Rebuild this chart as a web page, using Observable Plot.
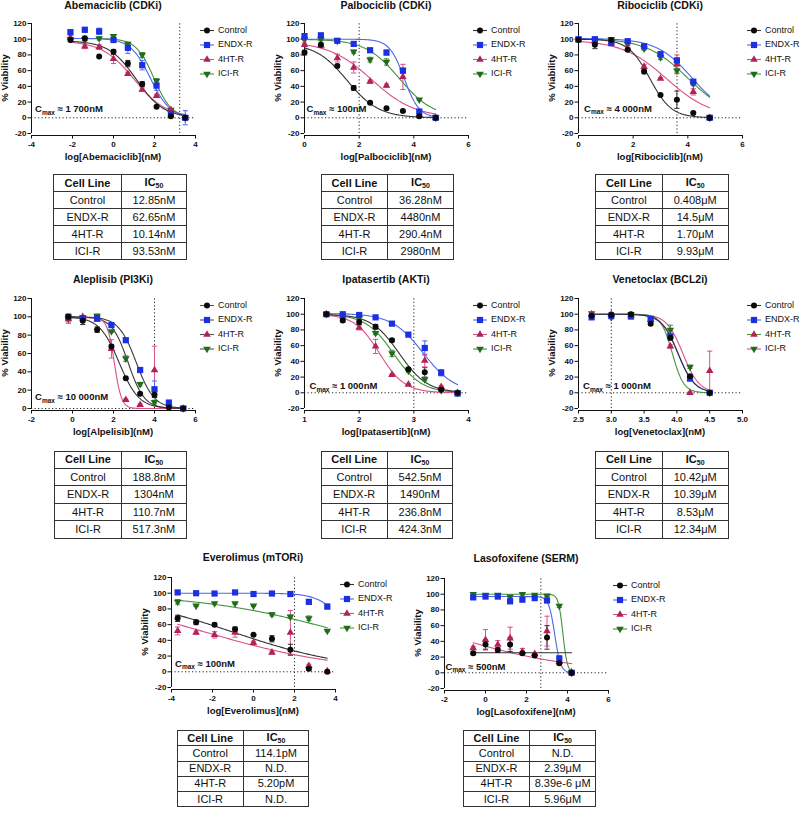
<!DOCTYPE html>
<html><head><meta charset="utf-8">
<script src="https://cdn.jsdelivr.net/npm/d3@7"></script>
<script src="https://cdn.jsdelivr.net/npm/@observablehq/plot@0.6"></script>
<style>
body{margin:0;background:#fff;font-family:"Liberation Sans",Arial,sans-serif;}
#root{position:relative;width:800px;height:817px;overflow:hidden;background:#fff;}
#root svg{position:absolute;}
table.ic{position:absolute;border-collapse:collapse;table-layout:fixed;font-family:"Liberation Sans",Arial,sans-serif;font-size:11px;color:#111;}
table.ic td{border:1.2px solid #333;text-align:center;padding:0;line-height:1;white-space:nowrap;overflow:hidden;}
table.ic tr.h td{font-weight:bold;}
table.ic sub{font-size:7px;vertical-align:-2px;}
</style></head><body><div id="root"></div>
<script>
// ---------------- data ----------------
const seriesNames = ["Control", "ENDX-R", "4HT-R", "ICI-R"];
const cmaxNM = [1700, 100, 4000, 10000, 1000, 1000, 100, 500];
const cmaxText = ["1 700nM", "100nM", "4 000nM", "10 000nM", "1 000nM", "1 000nM", "100nM", "500nM"];

// Abemaciclib (CDKi)
const abemaDose = [-2.1, -1.4, -0.7, 0, 0.7, 1.4, 2.1, 2.8, 3.5];
const abemaViability = [
  [99, 101, 78, 84, 69, 43, 14, 2, 0],
  [109, 112, 110, 99, 89, 67, 41, 5, 0],
  [102, 91, 90, 75, 56, 36, 28, 10, 0],
  [100, 100, 101, 104, 94, 80, 47, 10, 0]];
const abemaSem = [
  [2, 3, 0, 3, 4, 3, 1, 1, 1],
  [2, 3, 4, 2, 7, 6, 6, 3, 9],
  [3, 3, 3, 6, 2, 2, 2, 1, 2],
  [2, 2, 2, 2, 2, 3, 3, 2, 2]];
const abemaFit = [[98, 0, 1.109, 0.65], [101, 0, 1.797, 0.9], [98, 0, 1.006, 0.55], [101, 0, 1.971, 1.0]];
const abemaIC50 = ["12.85nM", "62.65nM", "10.14nM", "93.53nM"];

// Palbociclib (CDKi)
const palboDose = [0, 0.6, 1.2, 1.8, 2.4, 3.0, 3.6, 4.2, 4.8];
const palboViability = [
  [83, 93, 66, 38, 19, 12, 8.5, 2, 0],
  [104, 105, 98, 94, 86, 83, 60, 8, 0],
  [93, 92, 76, 64, 46, 41, 52, 3, 0],
  [100, 100, 98, 84, 74, 71, 60, 23, 0]];
const palboSem = [
  [3, 2, 2, 3, 1, 1, 1, 1, 1],
  [2, 2, 2, 3, 2, 3, 3, 2, 1],
  [2, 2, 5, 7, 2, 2, 16, 1, 1],
  [2, 2, 2, 2, 3, 4, 3, 1, 1]];
const palboFit = [[95, 0, 1.56, 0.75], [100, 0, 3.65, 1.6], [97, 0, 2.46, 0.55], [100, 0, 3.47, 0.7]];
const palboIC50 = ["36.28nM", "4480nM", "290.4nM", "2980nM"];

// Ribociclib (CDKi)
const riboDose = [0, 0.6, 1.2, 1.8, 2.4, 3.0, 3.6, 4.2, 4.8];
const riboViability = [
  [99, 93, 99, 86.5, 59, 29, 23, 6, 0],
  [100, 100, 95, 97.5, 91, 81, 73, 46, 0],
  [99, 97, 96, 88, 65, 50, 68, 33, 0],
  [100, 99, 100, 94, 88, 77, 60, 43, 0]];
const riboSem = [
  [2, 5, 2, 2, 3, 1, 11, 1, 1],
  [2, 1, 2, 2, 1, 2, 3, 2, 1],
  [2, 2, 2, 2, 3, 1, 12, 4, 1],
  [1, 1, 1, 2, 2, 3, 3, 2, 1]];
const riboFit = [[100, 0, 2.61, 1.1], [101, 0, 4.16, 0.67], [99, 0, 3.23, 0.53], [101, 0, 4.0, 0.57]];
const riboIC50 = ["0.408μM", "14.5μM", "1.70μM", "9.93μM"];

// Alpelisib (PI3Ki)
const alpeDose = [-0.2, 0.5, 1.2, 1.9, 2.6, 3.3, 4.0, 4.7, 5.4];
const alpeViability = [
  [100, 95.6, 86, 67.6, 33, 16, 15, 1, 0],
  [100, 98.5, 98.5, 91, 74.5, 42, 21, 6.5, 0],
  [97.5, 100, 97, 65, 9.5, 4, 42, 2, 0],
  [98, 99, 101, 84, 54.5, 26.5, 7, 2, 0]];
const alpeSem = [
  [2, 4, 3, 2, 1, 1, 3, 1, 1],
  [2, 2, 2, 1, 2, 2, 9, 1, 1],
  [3, 1, 2, 10, 1, 1, 26, 1, 1],
  [5, 2, 2, 1, 3, 2, 2, 1, 1]];
const alpeFit = [[100, 0, 2.276, 0.9], [100, 0, 3.115, 1.0], [99, 0, 2.044, 2.5], [100, 0, 2.714, 1.1]];
const alpeIC50 = ["188.8nM", "1304nM", "110.7nM", "517.3nM"];

// Ipatasertib (AKTi)
const ipatDose = [1.4, 1.7, 2.0, 2.3, 2.6, 2.9, 3.2, 3.5, 3.8];
const ipatViability = [
  [100, 92, 90, 84, 67, 30, 26, 4, 0],
  [100, 100, 99, 96, 88, 74, 57, 25.5, -1],
  [100, 97, 83, 59, 23, 10.6, 41, 7.7, 0],
  [100, 98, 95, 76, 50, 28, 17, 3, 0]];
const ipatSem = [
  [2, 2, 3, 3, 2, 2, 6, 1, 1],
  [1, 1, 1, 2, 2, 1, 9, 4, 2],
  [1, 1, 3, 9, 1, 1, 8, 1, 1],
  [1, 1, 2, 2, 4, 2, 2, 1, 1]];
const ipatFit = [[100, 0, 2.734, 1.7], [101, 0, 3.173, 1.5], [100, 0, 2.374, 1.9], [100, 0, 2.628, 1.7]];
const ipatIC50 = ["542.5nM", "1490nM", "236.8nM", "424.3nM"];

// Venetoclax (BCL2i)
const veneDose = [2.7, 3.0, 3.3, 3.6, 3.9, 4.2, 4.5];
const veneViability = [
  [98, 99, 100, 88, 70, 21, 0],
  [96, 98, 97, 94, 72, 18, 0],
  [100, 100, 99, 93, 59, 0, 28],
  [101, 96, 100, 95, 80, 33, 0]];
const veneSem = [
  [2, 3, 1, 2, 3, 2, 1],
  [2, 2, 2, 2, 2, 2, 1],
  [1, 1, 1, 2, 2, 1, 25],
  [1, 2, 1, 2, 6, 2, 1]];
const veneFit = [[100, 0, 4.018, 3.5], [100, 0, 4.017, 3.4], [100, 0, 3.931, 5.0], [100, 0, 4.091, 3.5]];
const veneIC50 = ["10.42μM", "10.39μM", "8.53μM", "12.34μM"];

// Everolimus (mTORi)
const everDose = [-3.7, -2.8, -1.9, -0.9, 0, 0.9, 1.8, 2.7, 3.6];
const everViability = [
  [68, 63, 60, 54, 47, 42, 28, 4, 0],
  [101, 100, 99.6, 101, 99, 99.6, 99, 89, 83],
  [52, 50, 47, 50, 37, 24.6, 50, 7.6, 1],
  [89, 84, 87, 87, 84, 73, 70, 68, 52]];
const everSem = [
  [4, 3, 2, 3, 1, 4, 7, 2, 1],
  [1, 1, 1, 1, 1, 1, 1, 3, 3],
  [5, 2, 4, 6, 2, 2, 28, 2, 1],
  [3, 1, 1, 1, 1, 2, 2, 3, 1]];
const everFit = [[100, 0, -0.943, 0.15], [100, 0, 4.65, 0.7], [100, 0, -2.284, 0.13], [100, 0, 4.45, 0.123]];
const everIC50 = ["114.1pM", "N.D.", "5.20pM", "N.D."];

// Lasofoxifene (SERM)
const lasoDose = [-0.6, 0, 0.6, 1.2, 1.8, 2.4, 3.0, 3.6, 4.2];
const lasoViability = [
  [25, 36, 29, 36, 25, 22, 45, 12, 0],
  [96, 97, 97, 91, 93, 95, 92, 18, 0],
  [31.6, 42, 36, 44, 27, 24, 53, 14, 1],
  [100, 99, 99, 97, 100, 99, 98, 85, 0]];
const lasoSem = [
  [2, 6, 3, 9, 1, 1, 15, 2, 1],
  [2, 2, 1, 3, 2, 2, 2, 4, 1],
  [2, 13, 5, 14, 4, 2, 19, 3, 1],
  [2, 1, 1, 1, 1, 1, 1, 2, 1]];
const lasoFit = [[25.5, 25.5, 2, 1], [97, 0, 3.378, 3], [100, 0, -2.08, 0.14], [100, 0, 3.775, 4]];
const lasoIC50 = ["N.D.", "2.39μM", "8.39e-6 μM", "5.96μM"];

// ---------------- styles ----------------
const markerColors = ["#0a0a0a", "#1c2fe3", "#b02258", "#226b1c"];
const curveDefault = ["#333333", "#4d66ea", "#d9508a", "#46923f"];
const errColors = ["#333333", "#4d66ea", "#d9508a", "#46923f"];
const symbols = ["circle", "square", "triangle", "triangle"];
const radii = [3, 3.5, 2.8, 2.8];
const rotations = [0, 0, 0, 180];

const panels = [
  {title: "Abemaciclib (CDKi)", xLabel: "log[Abemaciclib](nM)", dose: abemaDose, vals: abemaViability, sem: abemaSem, fit: abemaFit, ic50: abemaIC50,
   xDomain: [-4, 4], xTicks: [-4, -2, 0, 2, 4], yMin: -20, L: 31, T: 23, titleDy: 16.5, labelY: 11, labelDx: 4, table: [53, 174, 133, 68, 17.1]},
  {title: "Palbociclib (CDKi)", xLabel: "log[Palbociclib](nM)", dose: palboDose, vals: palboViability, sem: palboSem, fit: palboFit, ic50: palboIC50,
   xDomain: [0, 6], xTicks: [0, 2, 4, 6], yMin: -20, L: 304.3, T: 23, titleDy: 16.5, labelY: 11, labelDx: 2.5, table: [320.7, 174, 132, 66.6, 17.1]},
  {title: "Ribociclib (CDKi)", xLabel: "log[Ribociclib](nM)", dose: riboDose, vals: riboViability, sem: riboSem, fit: riboFit, ic50: riboIC50,
   xDomain: [0, 6], xTicks: [0, 2, 4, 6], yMin: -20, L: 578.3, T: 23, titleDy: 16.5, labelY: 11.5, labelDx: 6, table: [595, 174, 132.7, 66.7, 17.1]},
  {title: "Aleplisib (PI3Ki)", xLabel: "log[Alpelisib](nM)", dose: alpeDose, vals: alpeViability, sem: alpeSem, fit: alpeFit, ic50: alpeIC50,
   xDomain: [-2, 6], xTicks: [-2, 0, 2, 4, 6], yMin: 0, L: 31, T: 297.7, titleDy: 18, labelY: 12, labelDx: 4, table: [54.3, 450.7, 131.7, 66.4, 17.4],
   curveColors: ["#333333", "#3a3a3a", "#d9508a", "#3a3a3a"], legendLines: ["#555", "#555", "#555", "#555"]},
  {title: "Ipatasertib (AKTi)", xLabel: "log[Ipatasertib](nM)", dose: ipatDose, vals: ipatViability, sem: ipatSem, fit: ipatFit, ic50: ipatIC50,
   xDomain: [1, 4], xTicks: [1, 2, 3, 4], yMin: -20, L: 304.3, T: 297.7, titleDy: 18, labelY: 8.5, labelDx: 5.5, table: [320.7, 450.7, 131.6, 66, 17.4]},
  {title: "Venetoclax (BCL2i)", xLabel: "log[Venetoclax](nM)", dose: veneDose, vals: veneViability, sem: veneSem, fit: veneFit, ic50: veneIC50,
   xDomain: [2.5, 5], xTicks: [2.5, 3, 3.5, 4, 4.5, 5], xFmt: d3.format(".1f"), yMin: -20, L: 578.3, T: 297.7, titleDy: 18, labelY: 8.5, labelDx: 5, table: [595, 450.7, 132.7, 66.7, 17.4],
   curveColors: ["#333333", "#4d66ea", "#46923f", "#d9508a"]},
  {title: "Everolimus (mTORi)", xLabel: "log[Everolimus](nM)", dose: everDose, vals: everViability, sem: everSem, fit: everFit, ic50: everIC50,
   xDomain: [-4, 4], xTicks: [-4, -2, 0, 2, 4], yMin: -20, L: 171, T: 576.7, titleDy: 19, labelY: 10, labelDx: 4, table: [176.7, 730.3, 131.6, 66, 15.2]},
  {title: "Lasofoxifene (SERM)", xLabel: "log[Lasofoxifene](nM)", dose: lasoDose, vals: lasoViability, sem: lasoSem, fit: lasoFit, ic50: lasoIC50,
   xDomain: [-2, 6], xTicks: [-2, 0, 2, 4, 6], yMin: -20, L: 444, T: 577.7, titleDy: 19, labelY: 7.5, labelDx: 1.5, table: [462.7, 730.3, 132.3, 66.6, 15.2]}
];

const root = document.getElementById("root");
const FONT = '"Liberation Sans", Arial, sans-serif';
const capSymbol = {draw(ctx, size) { const w = Math.sqrt(size / Math.PI); ctx.moveTo(-w, 0); ctx.lineTo(w, 0); }};
const d3Sym = {circle: d3.symbolCircle, square: d3.symbolSquare, triangle: d3.symbolTriangle};

function addText(sel, x, y, txt, size, weight, anchor) {
  return sel.append("text").attr("x", x).attr("y", y).attr("text-anchor", anchor).attr("dominant-baseline", "middle")
    .attr("font-family", FONT).attr("font-size", size).attr("font-weight", weight).attr("fill", "#111").text(txt);
}

function drawPanel(p, idx) {
  const ML = 44, MT = 28, MR = 110, MB = 34, PW = 164, PH = 110, OFF = 2;
  const W = ML + PW + MR, H = MT + PH + OFF + MB;
  const order = [3, 2, 1, 0];
  const curveColors = p.curveColors || curveDefault;
  const legendLines = p.legendLines || curveColors;
  const pts = seriesNames.map((s, k) => p.dose.map((x, i) => ({x, y: p.vals[k][i], e: p.sem[k][i]})).filter(d => d.y != null));
  const curves = seriesNames.map((s, k) => {
    const [top, bot, c, h] = p.fit[k];
    const x0 = p.dose[0], x1 = p.dose[p.dose.length - 1];
    return d3.range(0, 161).map(j => { const x = x0 + (x1 - x0) * j / 160; return {x, y: bot + (top - bot) / (1 + Math.pow(10, (x - c) * h))}; });
  });
  const cmax = Math.log10(cmaxNM[idx]);
  const marks = [
    Plot.ruleY([0], {stroke: "#222", strokeWidth: 1, strokeDasharray: "1.2,2.3"}),
    Plot.ruleX([cmax], {y1: p.yMin, y2: 120, stroke: "#222", strokeWidth: 1, strokeDasharray: "1.2,2.3"}),
    Plot.ruleX([p.xDomain[0]], {y1: p.yMin, y2: 120, stroke: "#111", strokeWidth: 1}),
    Plot.frame({anchor: "bottom", stroke: "#111", strokeWidth: 1}),
    Plot.axisY({ticks: d3.range(p.yMin, 121, 20), tickSize: 3.5, tickPadding: 1.5, tickFormat: d => String(d), label: null, fontSize: 8, fontWeight: "bold"}),
    Plot.axisX({ticks: p.xTicks, tickSize: 3.5, tickPadding: 2, tickFormat: p.xFmt || (d => String(d)), label: null, fontSize: 8, fontWeight: "bold"}),
    ...order.map(k => Plot.line(curves[k], {x: "x", y: "y", stroke: curveColors[k], strokeWidth: 1.1})),
    ...order.map(k => Plot.ruleX(pts[k].filter(d => d.e > 0), {x: "x", y1: d => d.y - d.e, y2: d => d.y + d.e, stroke: errColors[k], strokeWidth: 1})),
    ...order.map(k => Plot.dot(pts[k].filter(d => d.e > 0), {x: "x", y: d => d.y + d.e, symbol: capSymbol, r: 2.6, stroke: errColors[k], fill: "none", strokeWidth: 1})),
    ...order.map(k => Plot.dot(pts[k].filter(d => d.e > 0), {x: "x", y: d => d.y - d.e, symbol: capSymbol, r: 2.6, stroke: errColors[k], fill: "none", strokeWidth: 1})),
    ...order.map(k => Plot.dot(pts[k], {x: "x", y: "y", symbol: symbols[k], r: radii[k], fill: markerColors[k], stroke: "none", rotate: rotations[k]}))
  ];
  const plot = Plot.plot({
    width: W, height: H, marginLeft: ML, marginTop: MT, marginRight: MR, marginBottom: MB,
    x: {domain: p.xDomain, range: [ML, ML + PW]},
    y: {domain: [p.yMin, 120], range: [MT + PH, MT]},
    style: {fontFamily: FONT, fontSize: "8px", color: "#111", background: "transparent", overflow: "visible"},
    marks
  });
  plot.style.left = (p.L - ML) + "px";
  plot.style.top = (p.T - MT) + "px";
  root.appendChild(plot);

  const ys = plot.scale("y");
  const sel = d3.select(plot);
  const cx = ML + PW / 2;
  addText(sel, cx, MT - p.titleDy, p.title, 10.5, "bold", "middle");
  addText(sel, cx, MT + PH + OFF + 22, p.xLabel, 9.5, "bold", "middle");
  addText(sel, 0, 0, "% Viability", 9.5, "bold", "middle").attr("transform", `translate(${ML - 26},${MT + PH / 2}) rotate(-90)`);

  // Cmax label
  const yLab = ys.apply(p.labelY);
  const t = sel.append("text").attr("x", ML + p.labelDx).attr("y", yLab + 3.4).attr("text-anchor", "start")
    .attr("font-family", FONT).attr("font-size", 9.5).attr("font-weight", "bold").attr("fill", "#111").style("white-space", "pre");
  t.append("tspan").text("C");
  t.append("tspan").attr("font-size", 6.5).attr("dy", 2.5).text("max");
  t.append("tspan").attr("font-size", 9.5).attr("dy", -2.5).text(" \u2248 " + cmaxText[idx]);

  // legend
  const legY = [7.5, 22, 36.5, 51];
  seriesNames.forEach((s, k) => {
    const y = MT + legY[k];
    const g = sel.append("g");
    g.append("line").attr("x1", ML + 169).attr("x2", ML + 183).attr("y1", y).attr("y2", y).attr("stroke", legendLines[k]).attr("stroke-width", 1.1);
    g.append("path").attr("d", d3.symbol().type(d3Sym[symbols[k]]).size(Math.PI * radii[k] * radii[k])())
      .attr("transform", `translate(${ML + 176},${y}) rotate(${rotations[k]})`).attr("fill", markerColors[k]);
    addText(g, ML + 187, y, s, 9, "normal", "start");
  });
}

function drawTable(pos, ic50) {
  const [left, top, w, split, rowH] = pos;
  const tbl = document.createElement("table");
  tbl.className = "ic";
  Object.assign(tbl.style, {left: left + "px", top: top + "px", width: w + "px"});
  const cg = document.createElement("colgroup");
  [split, w - split].forEach(cw => { const c = document.createElement("col"); c.style.width = cw + "px"; cg.appendChild(c); });
  tbl.appendChild(cg);
  const rows = [["Cell Line", "IC<sub>50</sub>"], ...seriesNames.map((s, k) => [s, ic50[k]])];
  rows.forEach((r, i) => {
    const tr = document.createElement("tr");
    if (i === 0) tr.className = "h";
    tr.style.height = rowH + "px";
    r.forEach(v => { const td = document.createElement("td"); td.innerHTML = v; tr.appendChild(td); });
    tbl.appendChild(tr);
  });
  root.appendChild(tbl);
}

panels.forEach((p, i) => { drawPanel(p, i); drawTable(p.table, p.ic50); });
</script></body></html>
